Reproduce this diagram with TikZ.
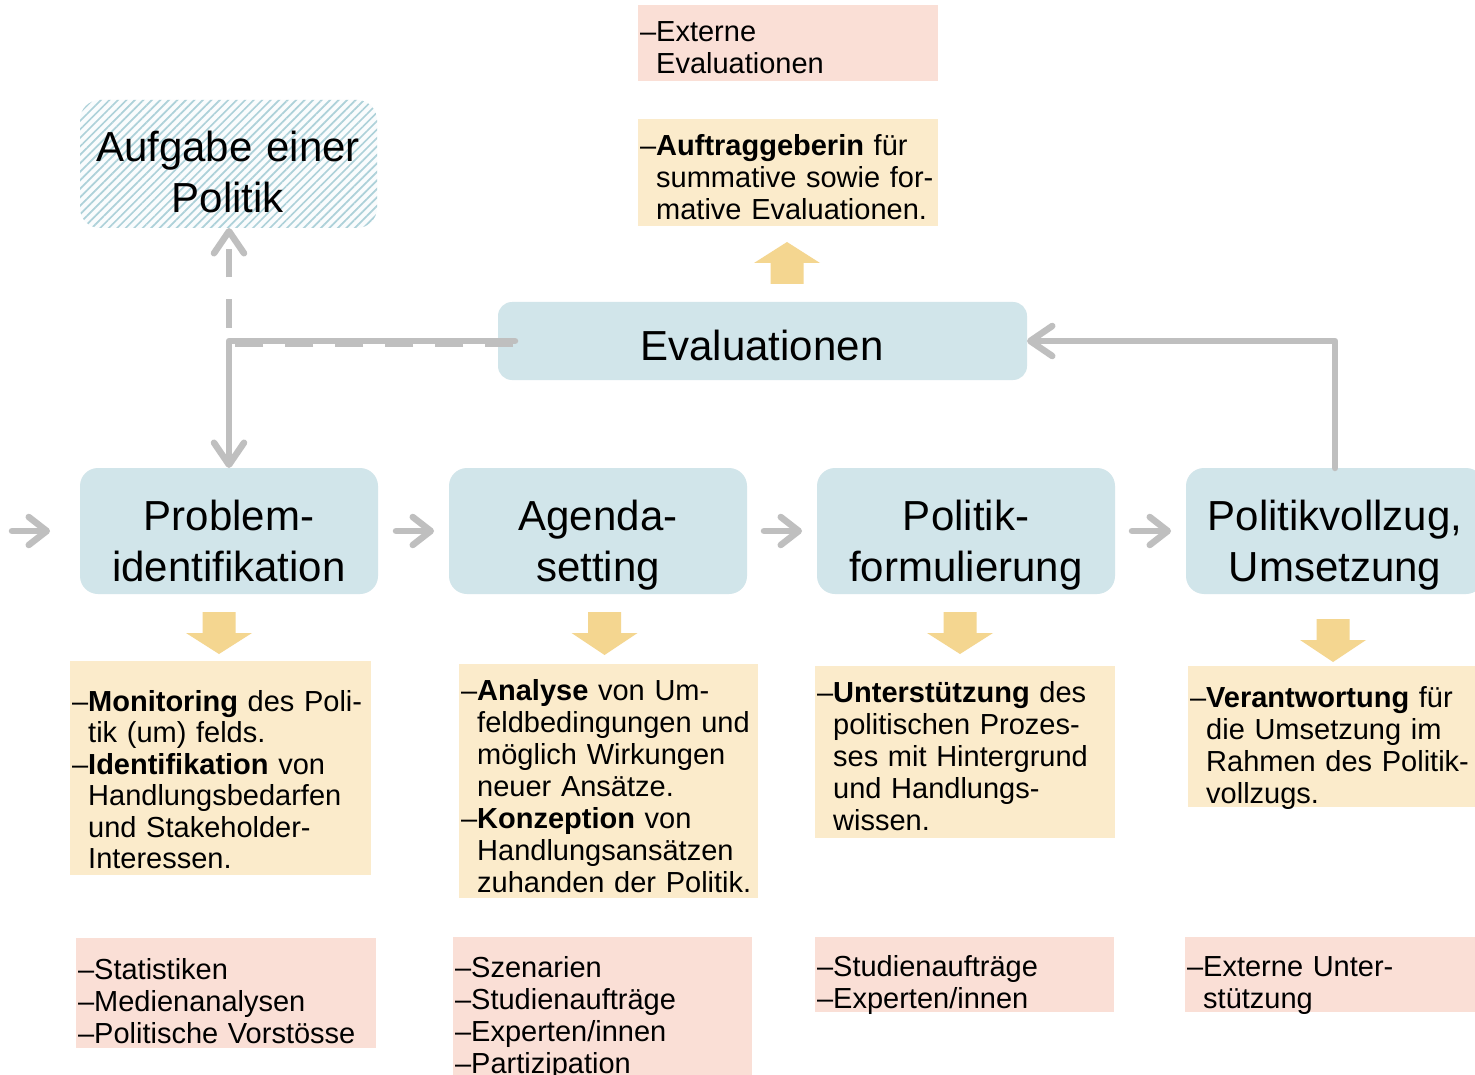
\documentclass[tikz,border=0pt]{standalone}
\usepackage{fontspec}
\setmainfont{Liberation Sans}
\usetikzlibrary{arrows.meta,patterns.meta}
\definecolor{boxblue}{HTML}{D1E5EA}
\definecolor{boxyellow}{HTML}{FBEBCB}
\definecolor{boxpink}{HTML}{FADFD6}
\definecolor{arrowgold}{HTML}{F4D690}
\definecolor{linegrey}{HTML}{BFBFBF}
\definecolor{hatchblue}{HTML}{ADD1D9}
\newcommand\blockarrowshape[4]{%
  \fill[arrowgold] ({#1-16.5},#2) -- ({#1+16.5},#2) -- ({#1+16.5},#3) -- ({#1+33},#3) -- (#1,#4) -- ({#1-33},#3) -- ({#1-16.5},#3) -- cycle;}
\newcommand\itm{\leavevmode\llap{–}}
\tikzset{
  stagebox/.style={fill=boxblue, rounded corners=18pt, inner sep=0pt, outer sep=0pt, anchor=north west, minimum width=298pt, minimum height=126pt},
  ybox/.style={fill=boxyellow, inner sep=0pt, outer sep=0pt, anchor=north west},
  pbox/.style={fill=boxpink, inner sep=0pt, outer sep=0pt, anchor=north west},
  bigtext/.style={font=\fontsize{42}{51}\selectfont, text width=340pt, align=center, anchor=base, inner sep=0pt},
  listtext/.style={font=\fontsize{29}{32}\selectfont, text width=340pt, align=left, anchor=base west, inner sep=0pt},
  conn/.style={draw=linegrey, line width=6.5pt, line cap=round, line join=round},
  bigtip/.style={-{Straight Barb[length=22pt, width=30pt, round]}},
  chev/.style={conn, -{Straight Barb[length=18pt, width=28pt, round]}},
}
\begin{document}
\begin{tikzpicture}[x=1pt, y=-1pt]
\clip (0,0) rectangle (1475,1075);
\fill[white] (0,0) rectangle (1475,1075);

% Aufgabe box (hatched)
\node[anchor=north west, minimum width=297pt, minimum height=128pt, rounded corners=20pt, inner sep=0pt, outer sep=0pt,
      fill=white!94!hatchblue, postaction={pattern={Lines[angle=45,distance=6pt,line width=1.7pt]}, pattern color=hatchblue}] (aufg) at (80,100) {};
\node[bigtext] (aufgt) at (228,162) {Aufgabe einer\\Politik};

% Evaluationen
\node[stagebox, minimum width=529pt, minimum height=78pt, rounded corners=14pt] (ev) at (498,302) {};
\node[bigtext] (evt) at (762,360) {Evaluationen};

% top boxes
\node[pbox, minimum width=300pt, minimum height=76pt] (pev) at (638,5) {};
\node[listtext] (pevt) at (656,42) {\itm Externe\\Evaluationen};
\node[ybox, minimum width=300pt, minimum height=107pt] (yev) at (638,119) {};
\node[listtext] (yevt) at (656,156) {\itm\textbf{Auftraggeberin} für\\summative sowie for-\\mative Evaluationen.};
\blockarrowshape{787}{284}{263}{242}

% stages
\node[stagebox] (p1) at (80,468) {};
\node[stagebox] (p2) at (449,468) {};
\node[stagebox] (p3) at (817,468) {};
\node[stagebox] (p4) at (1186,468) {};
\node[bigtext] (p1t) at (229,530) {Problem-\\identifikation};
\node[bigtext] (p2t) at (598,530) {Agenda-\\setting};
\node[bigtext] (p3t) at (966,530) {Politik-\\formulierung};
\node[bigtext] (p4t) at (1335,530) {Politikvollzug,\\Umsetzung};

% chevrons between stages
\coordinate (in) at (12,531);
\draw[chev] (in) -- ([xshift=-30pt]p1.west);
\draw[chev] ([xshift=18pt]p1.east) -- ([xshift=-15pt]p2.west);
\draw[chev] ([xshift=17pt]p2.east) -- ([xshift=-15pt]p3.west);
\draw[chev] ([xshift=17pt]p3.east) -- ([xshift=-15pt]p4.west);

% connectors with Evaluationen
\coordinate (c1) at (229,341);
\coordinate (c2) at (229,343.5);
\draw[conn, line cap=butt, dash pattern=on 28pt off 22pt, dash phase=48pt, bigtip] ([xshift=17pt,yshift=-2.5pt]ev.west) -- (c2) -- (c2 |- aufg.south);
\draw[conn, bigtip] ([xshift=17pt]ev.west) -- (c1) -- (p1.north);
\draw[conn, bigtip] (p4.north) -- (p4.north |- ev.east) -- (ev.east);

% yellow block arrows
\blockarrowshape{219}{612}{633}{654}
\blockarrowshape{604.5}{612}{633}{655}
\blockarrowshape{960}{612}{633}{654}
\blockarrowshape{1333}{619}{640}{662}

% yellow boxes
\node[ybox, minimum width=301pt, minimum height=214pt] (y1) at (70,661) {};
\node[listtext, font=\fontsize{29}{31.5}\selectfont] (y1t) at (88,711) {\itm\textbf{Monitoring} des Poli-\\tik (um) felds.\\\itm\textbf{Identifikation} von\\Handlungsbedarfen\\und Stakeholder-\\Interessen.};
\node[ybox, minimum width=299pt, minimum height=234pt] (y2) at (459,664) {};
\node[listtext] (y2t) at (477,700) {\itm\textbf{Analyse} von Um-\\feldbedingungen und\\möglich Wirkungen\\neuer Ansätze.\\\itm\textbf{Konzeption} von\\Handlungsansätzen\\zuhanden der Politik.};
\node[ybox, minimum width=300pt, minimum height=172pt] (y3) at (815,666) {};
\node[listtext] (y3t) at (833,702) {\itm\textbf{Unterstützung} des\\politischen Prozes-\\ses mit Hintergrund\\und Handlungs-\\wissen.};
\node[ybox, minimum width=300pt, minimum height=141pt] (y4) at (1188,666) {};
\node[listtext] (y4t) at (1206,707) {\itm\textbf{Verantwortung} für\\die Umsetzung im\\Rahmen des Politik-\\vollzugs.};

% pink boxes
\node[pbox, minimum width=300pt, minimum height=110pt] (r1) at (76,938) {};
\node[listtext] (r1t) at (94,979) {\itm Statistiken\\\itm Medienanalysen\\\itm Politische Vorstösse};
\node[pbox, minimum width=299pt, minimum height=140pt] (r2) at (453,937) {};
\node[listtext] (r2t) at (471,977) {\itm Szenarien\\\itm Studienaufträge\\\itm Experten/innen\\\itm Partizipation};
\node[pbox, minimum width=299pt, minimum height=75pt] (r3) at (815,937) {};
\node[listtext] (r3t) at (833,976) {\itm Studienaufträge\\\itm Experten/innen};
\node[pbox, minimum width=300pt, minimum height=75pt] (r4) at (1185,937) {};
\node[listtext] (r4t) at (1203,976) {\itm Externe Unter-\\stützung};
\end{tikzpicture}
\end{document}
